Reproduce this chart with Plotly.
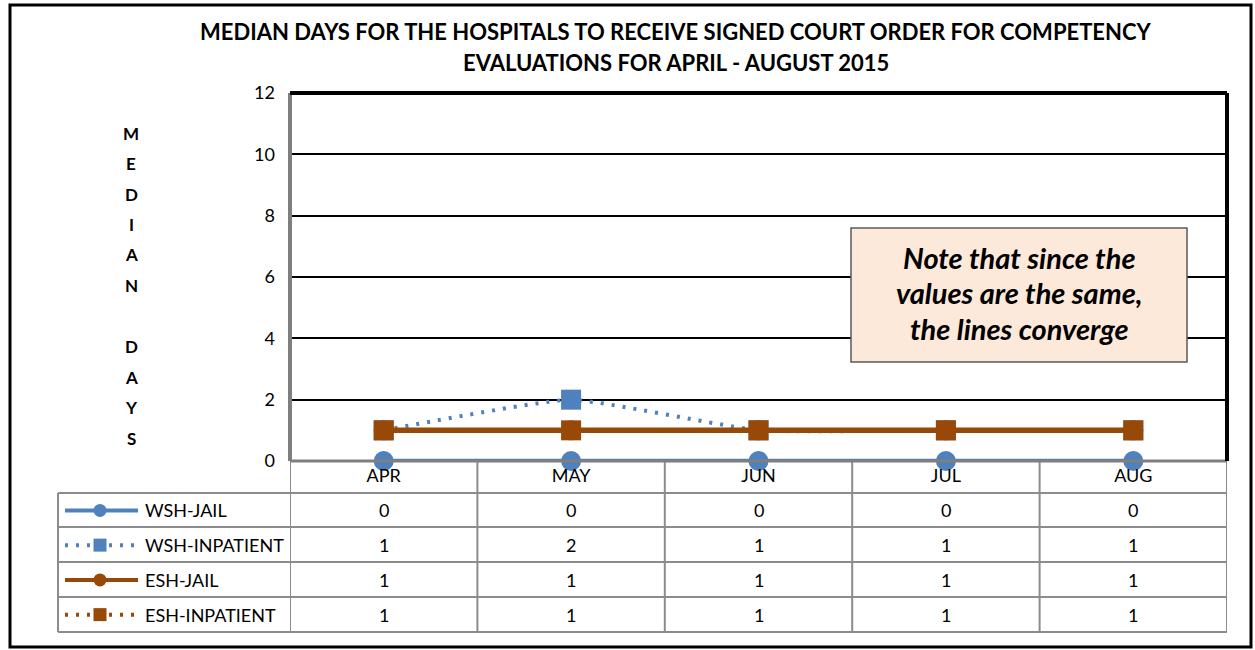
import plotly.graph_objects as go

# data
months = ["APR", "MAY", "JUN", "JUL", "AUG"]
wsh_jail = [0, 0, 0, 0, 0]
wsh_inpatient = [1, 2, 1, 1, 1]
esh_jail = [1, 1, 1, 1, 1]
esh_inpatient = [1, 1, 1, 1, 1]
series_names = ["WSH-JAIL", "WSH-INPATIENT", "ESH-JAIL", "ESH-INPATIENT"]
y_ticks = [0, 2, 4, 6, 8, 10, 12]

title_lines = ["MEDIAN DAYS FOR THE HOSPITALS TO RECEIVE SIGNED COURT ORDER FOR COMPETENCY",
               "EVALUATIONS FOR APRIL - AUGUST 2015"]
note_lines = ["Note that since the", "values are the same,", "the lines converge"]
ytitle_letters = ["M", "E", "D", "I", "A", "N", "", "D", "A", "Y", "S"]

BLUE = "#4F81BD"
BROWN = "#984807"
GRID = "#8C8C8C"
FONT = "Lato"

W, H = 1255, 650


def fx(p):
    return p / W


def fy(p):
    return 1 - p / H


# plot area & table geometry (pixels)
PL, PR, PT, PB = 290, 1227, 93, 461
TL = 58
rows = [493, 527, 562, 597, 632]

styles = [
    dict(color=BLUE, dash="solid", symbol="circle", width=4.5, shape="linear"),
    dict(color=BLUE, dash="3px,8px", symbol="square", width=4, shape="spline"),
    dict(color=BROWN, dash="solid", symbol="circle", width=5.5, shape="linear"),
    dict(color=BROWN, dash="3px,8px", symbol="square", width=4, shape="linear"),
]
values = [wsh_jail, wsh_inpatient, esh_jail, esh_inpatient]

fig = go.Figure()

for name, vals, st in zip(series_names, values, styles):
    fig.add_trace(go.Scatter(
        x=months, y=vals, name=name, mode="lines+markers",
        line=dict(color=st["color"], width=st["width"], dash=st["dash"],
                  shape=st["shape"], smoothing=0.4),
        marker=dict(symbol=st["symbol"], size=20, color=st["color"]),
        cliponaxis=False, showlegend=False,
    ))

# legend keys inside the table's first column
for i, (name, st) in enumerate(zip(series_names, styles)):
    fig.add_trace(go.Scatter(
        x=[7, 80], y=[i + 0.5] * 2, mode="lines",
        line=dict(color=st["color"], width=4, dash=st["dash"]),
        xaxis="x2", yaxis="y2", showlegend=False, hoverinfo="skip",
    ))
    fig.add_trace(go.Scatter(
        x=[42], y=[i + 0.5], mode="markers",
        marker=dict(symbol=st["symbol"], size=13, color=st["color"]),
        xaxis="x2", yaxis="y2", showlegend=False, hoverinfo="skip",
    ))

fig.update_layout(
    width=W, height=H,
    margin=dict(l=0, r=0, t=0, b=0, pad=0, autoexpand=False),
    paper_bgcolor="white", plot_bgcolor="white",
    font=dict(family=FONT, size=18, color="black"),
    xaxis=dict(domain=[fx(PL), fx(PR)], type="category", range=[-0.5, 4.5],
               showgrid=False, zeroline=False, showline=False, automargin=False,
               ticks="", tickfont=dict(size=18), ticklabelstandoff=2),
    yaxis=dict(domain=[fy(PB), fy(PT)], range=[0, 12], tickvals=y_ticks,
               showgrid=True, gridcolor="black", gridwidth=1.5, automargin=False,
               zeroline=False, showline=False, ticks="",
               tickfont=dict(size=18), ticklabelstandoff=14),
    xaxis2=dict(domain=[fx(TL), fx(PL)], range=[0, PL - TL], visible=False),
    yaxis2=dict(domain=[fy(rows[-1]), fy(rows[0])], range=[4, 0], visible=False,
                anchor="x2"),
)

shapes = []
# outer frame
shapes.append(dict(type="rect", xref="paper", yref="paper", x0=fx(10), x1=fx(1251),
                   y0=fy(647), y1=fy(5), line=dict(color="black", width=3)))
# table grid
line_g = dict(color=GRID, width=2)
for r in rows:
    shapes.append(dict(type="line", xref="paper", yref="paper", x0=fx(TL), x1=fx(PR),
                       y0=fy(r), y1=fy(r), line=line_g))
shapes.append(dict(type="line", xref="paper", yref="paper", x0=fx(TL), x1=fx(TL),
                   y0=fy(rows[0]), y1=fy(rows[-1]), line=line_g))
for k in range(len(months) + 1):
    shapes.append(dict(type="line", xref="x", yref="paper", x0=k - 0.5, x1=k - 0.5,
                       y0=fy(PB), y1=fy(rows[-1]), line=line_g))
# plot area border
shapes.append(dict(type="line", xref="paper", yref="paper", x0=fx(PL), x1=fx(PR),
                   y0=fy(PB), y1=fy(PB), line=dict(color="#7F7F7F", width=3)))
shapes.append(dict(type="line", xref="paper", yref="paper", x0=fx(PL), x1=fx(PL),
                   y0=fy(PB), y1=fy(PT), line=dict(color="#7F7F7F", width=4)))
shapes.append(dict(type="line", xref="paper", yref="paper", x0=fx(PL), x1=fx(PR),
                   y0=fy(PT), y1=fy(PT), line=dict(color="black", width=4)))
shapes.append(dict(type="line", xref="paper", yref="paper", x0=fx(PR), x1=fx(PR),
                   y0=fy(PB), y1=fy(PT), line=dict(color="black", width=4)))
# note box
shapes.append(dict(type="rect", xref="paper", yref="paper", x0=fx(851), x1=fx(1187),
                   y0=fy(362), y1=fy(228), fillcolor="#FDE9D9",
                   line=dict(color="#595959", width=1.5), layer="above"))
fig.update_layout(shapes=shapes)

ann = []
for i, t in enumerate(title_lines):
    ann.append(dict(text="<b>%s</b>" % t, xref="paper", yref="paper", x=fx(676),
                    y=fy(32 + 31 * i), showarrow=False, font=dict(size=22),
                    xanchor="center", yanchor="middle"))
for i, ch in enumerate(ytitle_letters):
    if ch:
        ann.append(dict(text="<b>%s</b>" % ch, xref="paper", yref="paper", x=fx(131),
                        y=fy(133 + 30.5 * i), showarrow=False, font=dict(size=17),
                        xanchor="center", yanchor="middle"))
for i, t in enumerate(note_lines):
    ann.append(dict(text="<b><i>%s</i></b>" % t, xref="paper", yref="paper", x=fx(1019),
                    y=fy(257 + 35.5 * i), showarrow=False, font=dict(size=29),
                    xanchor="center", yanchor="middle"))
for i, (name, vals) in enumerate(zip(series_names, values)):
    ann.append(dict(text=name, xref="x2", yref="y2", x=85, y=i + 0.5, showarrow=False,
                    font=dict(size=18), xanchor="left", yanchor="middle"))
    for m, v in zip(months, vals):
        ann.append(dict(text=str(v), xref="x", yref="y2", x=m, y=i + 0.5,
                        showarrow=False, font=dict(size=18),
                        xanchor="center", yanchor="middle"))
fig.update_layout(annotations=ann)

fig.write_html("out.html", config={"displayModeBar": False},
               post_script="document.body.style.margin='0px';"
                           "document.documentElement.style.overflow='hidden';")
